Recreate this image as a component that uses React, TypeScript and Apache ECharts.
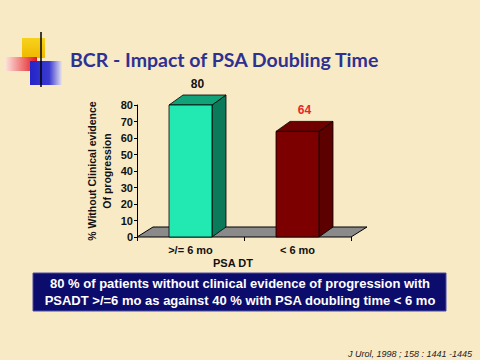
import React, { useEffect, useRef } from "react";
import * as echarts from "echarts";

const categories = [">/= 6 mo", "< 6 mo"];
const values = [80, 64];
const yTicks = { min: 0, max: 80, interval: 10 };
const barColors = [
  { front: "#22e8b2", side: "#0b7a5a", top: "#12a27a", label: "#111111" },
  { front: "#7d0000", side: "#5c0000", top: "#6e0000", label: "#e8262a" },
];
const titleText = "BCR - Impact of PSA Doubling Time";
const yAxisName = "% Without Clinical evidence\nOf progression";
const xAxisName = "PSA DT";
const boxText =
  "80 % of patients without clinical evidence of progression with\nPSADT >/=6 mo as against 40 % with PSA doubling time < 6 mo";
const citation = "J Urol, 1998 ; 158 : 1441 -1445";

const DX = 14;
const DY = -10;
const FONT = "'Liberation Sans', Arial, sans-serif";

export default function App() {
  const ref = useRef<HTMLDivElement>(null);
  useEffect(() => {
    if (!ref.current) return;
    const chart = echarts.init(ref.current, null, { renderer: "svg" });
    const option: any = {
      animation: false,
      backgroundColor: "#f9eac6",
      grid: { left: 137, right: 129, top: 105, bottom: 123 },
      xAxis: {
        type: "category",
        data: categories,
        name: xAxisName,
        nameLocation: "middle",
        nameGap: 20,
        nameTextStyle: {
          color: "#111",
          fontFamily: FONT,
          fontWeight: "bold",
          fontSize: 11,
          padding: [0, 22, 0, 0],
        },
        axisLine: { show: false },
        axisTick: { show: true, alignWithLabel: false, length: 4, lineStyle: { color: "#000" } },
        axisLabel: { color: "#111", fontFamily: FONT, fontWeight: "bold", fontSize: 11, margin: 7 },
        z: 5,
      },
      yAxis: {
        type: "value",
        min: yTicks.min,
        max: yTicks.max,
        interval: yTicks.interval,
        name: yAxisName,
        nameLocation: "middle",
        nameRotate: 90,
        nameGap: 23,
        nameTextStyle: {
          color: "#111",
          fontFamily: FONT,
          fontWeight: "bold",
          fontSize: 10.5,
          lineHeight: 15,
          padding: [0, 0, 0, 0],
        },
        axisLine: { show: true, lineStyle: { color: "#000", width: 1 } },
        axisTick: { show: true, length: 3, lineStyle: { color: "#000" } },
        axisLabel: { color: "#111", fontFamily: FONT, fontWeight: "bold", fontSize: 11, margin: 4 },
        splitLine: { show: false },
      },
      series: [
        {
          type: "custom",
          name: "floor",
          data: [[0, 0]],
          z: 1,
          renderItem: (params: any, api: any) => {
            const cs = params.coordSys;
            const by = cs.y + cs.height;
            const l = cs.x;
            const r = cs.x + cs.width;
            return {
              type: "polygon",
              shape: {
                points: [
                  [l, by],
                  [r, by],
                  [r + DX + 2, by + DY],
                  [l + DX + 2, by + DY],
                ],
              },
              style: { fill: "#8a8a8a", stroke: "#000", lineWidth: 1 },
            };
          },
        },
        {
          type: "custom",
          name: "bars",
          z: 2,
          data: values.map((v, i) => [i, v]),
          renderItem: (params: any, api: any) => {
            const x = api.value(0);
            const v = api.value(1);
            const top = api.coord([x, v]);
            const base = api.coord([x, 0]);
            const w = 43;
            const l = top[0] - w / 2;
            const r = top[0] + w / 2;
            const t = top[1];
            const b = base[1];
            const c = barColors[params.dataIndex];
            const st = { stroke: "#000", lineWidth: 0.8 };
            return {
              type: "group",
              children: [
                {
                  type: "polygon",
                  shape: { points: [[r, t], [r + DX, t + DY], [r + DX, b + DY], [r, b]] },
                  style: { fill: c.side, ...st },
                },
                {
                  type: "polygon",
                  shape: { points: [[l, t], [r, t], [r + DX, t + DY], [l + DX, t + DY]] },
                  style: { fill: c.top, ...st },
                },
                {
                  type: "rect",
                  shape: { x: l, y: t, width: w, height: b - t },
                  style: { fill: c.front, ...st },
                },
                {
                  type: "text",
                  style: {
                    text: String(v),
                    x: top[0] + DX / 2,
                    y: t + DY - 5,
                    align: "center",
                    verticalAlign: "bottom",
                    fill: c.label,
                    font: `bold 12px ${FONT}`,
                  },
                },
              ],
            };
          },
        },
      ],
      graphic: [
        {
          type: "rect",
          shape: { x: 22, y: 38, width: 23, height: 20 },
          style: {
            fill: new echarts.graphic.LinearGradient(0, 0, 0, 1, [
              { offset: 0, color: "#f7d21c" },
              { offset: 1, color: "#f0b800" },
            ]),
          },
        },
        {
          type: "rect",
          shape: { x: 5, y: 57, width: 32, height: 14 },
          style: {
            fill: new echarts.graphic.LinearGradient(0, 0, 1, 0, [
              { offset: 0, color: "#fde6e0" },
              { offset: 1, color: "#e3161c" },
            ]),
          },
        },
        {
          type: "rect",
          shape: { x: 30, y: 61, width: 32, height: 24 },
          style: {
            fill: new echarts.graphic.LinearGradient(0, 0, 1, 0, [
              { offset: 0, color: "#2424c8" },
              { offset: 0.6, color: "#3a3ad0" },
              { offset: 1, color: "#e8e4f0" },
            ]),
          },
        },
        {
          type: "line",
          shape: { x1: 41, y1: 32, x2: 41, y2: 87 },
          style: { stroke: "#000", lineWidth: 1.5 },
        },
        {
          type: "line",
          shape: { x1: 24, y1: 74, x2: 458, y2: 74 },
          style: {
            stroke: new echarts.graphic.LinearGradient(0, 0, 1, 0, [
              { offset: 0, color: "#111" },
              { offset: 0.5, color: "#666" },
              { offset: 1, color: "#f0e6d0" },
            ]),
            lineWidth: 2,
          },
        },
        {
          type: "text",
          left: 70,
          top: 49,
          style: {
            text: titleText,
            fill: "#2e3192",
            font: "bold 19.5px Lato, 'Open Sans', sans-serif",
          },
        },
        {
          type: "rect",
          shape: { x: 33, y: 273, width: 413, height: 38 },
          style: { fill: "#0c0c6c", stroke: "#4a4aa8", lineWidth: 1 },
        },
        {
          type: "text",
          style: {
            text: boxText,
            x: 240,
            y: 292,
            align: "center",
            verticalAlign: "middle",
            fill: "#ffffff",
            font: `bold 13px ${FONT}`,
            lineHeight: 17,
          },
        },
        {
          type: "text",
          style: {
            text: citation,
            x: 472,
            y: 354,
            align: "right",
            verticalAlign: "middle",
            fill: "#222",
            font: `italic 9px ${FONT}`,
          },
        },
      ],
    };
    chart.setOption(option);
    return () => chart.dispose();
  }, []);
  return (
    <div
      ref={ref}
      style={{ position: "fixed", left: 0, top: 0, width: 480, height: 360 }}
    />
  );
}
